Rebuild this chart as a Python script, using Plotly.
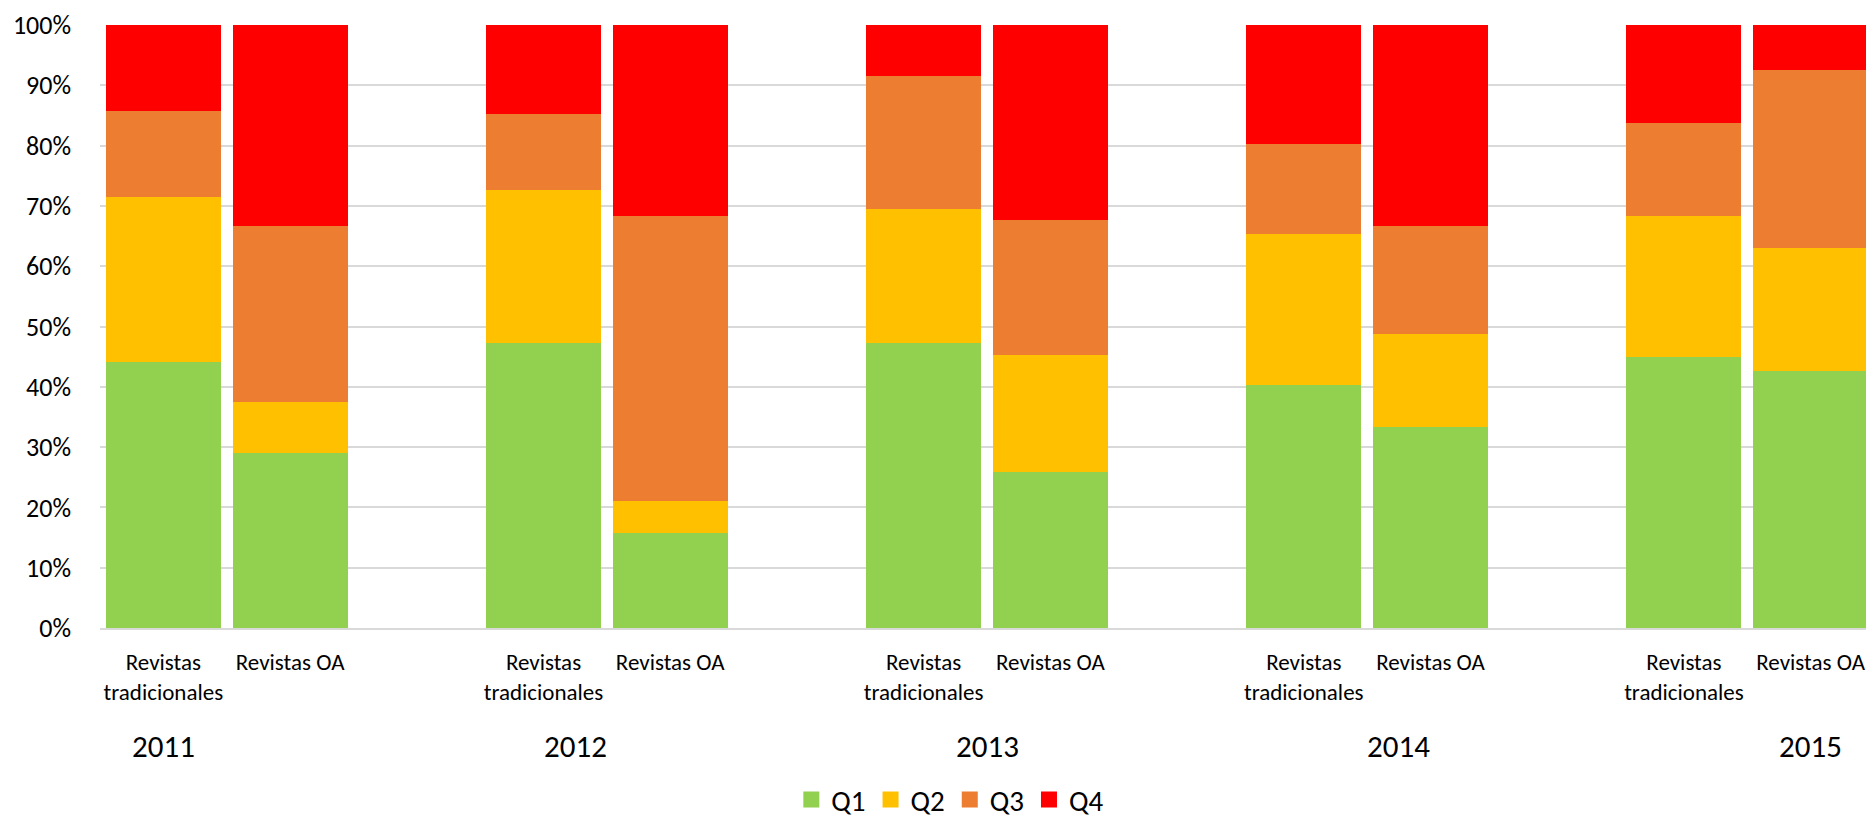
import plotly.graph_objects as go

years = ["2011", "2012", "2013", "2014", "2015"]
journal_types = ["Revistas<br>tradicionales", "Revistas OA"]
quartiles = ["Q1", "Q2", "Q3", "Q4"]
colors = ["#92D050", "#FFC000", "#ED7D31", "#FF0000"]

# Percent shares per year (2011..2015)
trad_q1 = [44.1, 47.3, 47.3, 40.3, 44.9]
trad_q2 = [27.4, 25.3, 22.2, 25.1, 23.5]
trad_q3 = [14.3, 12.6, 22.0, 14.9, 15.3]
trad_q4 = [14.2, 14.8, 8.5, 19.7, 16.3]

oa_q1 = [29.1, 15.8, 25.9, 33.3, 42.6]
oa_q2 = [8.3, 5.3, 19.4, 15.4, 20.5]
oa_q3 = [29.2, 47.3, 22.4, 17.9, 29.4]
oa_q4 = [33.4, 31.6, 32.3, 33.4, 7.5]

trad = [trad_q1, trad_q2, trad_q3, trad_q4]
oa = [oa_q1, oa_q2, oa_q3, oa_q4]

FONT = "Carlito, Calibri, Lato, sans-serif"

# positions: two bars per year, one empty slot between groups
xpos, tick_text = [], []
for g, _ in enumerate(years):
    for j, t in enumerate(journal_types):
        xpos.append(g * 3 + j)
        tick_text.append(t)

fig = go.Figure()
for qi, q in enumerate(quartiles):
    vals = []
    for g in range(len(years)):
        vals.append(trad[qi][g] / 100)
        vals.append(oa[qi][g] / 100)
    fig.add_trace(go.Bar(
        x=xpos, y=vals, name=q, showlegend=False, legendgroup=q,
        marker=dict(color=colors[qi], line=dict(width=0)),
    ))
# legend entries with larger square swatches
for qi, q in enumerate(quartiles):
    fig.add_trace(go.Scatter(
        x=[None], y=[None], mode="markers", name=q, legendgroup=q,
        marker=dict(symbol="square", size=18, color=colors[qi]),
        hoverinfo="skip",
    ))

for g, yr in enumerate(years):
    fig.add_annotation(
        x=g * 3.25, xref="x", y=-0.195, yref="paper",
        text=yr, showarrow=False, yanchor="middle",
        font=dict(family=FONT, size=31, color="#000000"),
    )

fig.update_layout(
    barmode="stack",
    bargap=0.092,
    width=1866, height=817,
    margin=dict(l=92, r=0, t=17, b=197, autoexpand=False),
    paper_bgcolor="white", plot_bgcolor="white",
    font=dict(family=FONT, color="#000000"),
    legend=dict(
        orientation="h", xref="container", yref="container",
        x=0.505, xanchor="center", y=0.031, yanchor="middle",
        font=dict(family=FONT, size=29, color="#000000"),
        traceorder="normal", itemwidth=30, itemsizing="trace",
    ),
    showlegend=True,
)
fig.update_xaxes(
    range=[-0.5, 13.5], automargin=False,
    tickmode="array", tickvals=xpos, ticktext=tick_text,
    tickfont=dict(family=FONT, size=23, color="#000000"),
    showgrid=False, zeroline=False,
    showline=True, linecolor="#D9D9D9", linewidth=2,
    ticks="", ticklabelstandoff=12,
)
fig.update_yaxes(
    range=[0, 1], automargin=False,
    tickmode="array",
    tickvals=[i / 10 for i in range(11)],
    ticktext=[f"{i * 10}%" for i in range(11)],
    tickfont=dict(family=FONT, size=26, color="#000000"),
    showgrid=True, gridcolor="#D9D9D9", gridwidth=2,
    zeroline=False, showline=False, ticks="",
    ticklabelstandoff=28, ticklabeloverflow="allow",
)

fig.write_html("out.html")
